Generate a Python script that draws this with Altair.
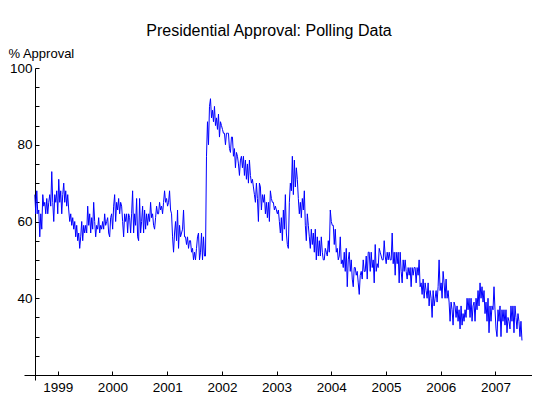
import altair as alt
import pandas as pd

# Weekly approval readings (% approving)
approval_1998_2001 = [
    67, 62, 68, 62, 63, 56, 62, 58, 67, 64, 65, 62, 66, 62, 65, 67, 64, 73, 65, 60,
    67, 65, 68, 62, 71, 65, 68, 62, 67, 70, 65, 68, 64, 67, 63, 60, 62, 59, 61, 58,
    60, 56, 59, 55, 57, 53, 56, 60, 55, 59, 57, 59, 57, 64, 59, 62, 57, 61, 58, 65,
    60, 56, 59, 58, 61, 57, 59, 58, 60, 58, 62, 59, 60, 61, 57, 56, 61, 62, 58, 64,
    67, 60, 65, 63, 66, 62, 65, 64, 60, 56, 62, 60, 62, 57, 62, 61, 57, 62, 68, 57,
    62, 59, 66, 56, 55, 66, 57, 60, 64, 57, 63, 58, 62, 59, 62, 60, 65, 61, 62, 59,
    58, 61, 64, 62, 62, 65, 63, 64, 62, 65, 68, 65, 66, 64, 65, 68, 63, 62, 56, 52,
    57, 60, 55, 63, 53, 59, 56, 57, 58, 63, 56, 56, 54, 56, 53, 55, 55, 52, 53, 50,
    52, 50, 53, 56, 57, 50, 52, 57, 50, 56, 51, 51,
]
approval_2001_2004 = [
    77, 86, 80, 90, 92, 87, 89, 86, 90, 85, 87, 84, 88, 82, 86, 85, 84, 83, 83, 80,
    83, 83, 83, 79, 78, 82, 82, 77, 79, 74, 78, 77, 75, 72, 76, 77, 74, 77, 72, 76,
    71, 75, 70, 76, 72, 70, 71, 69, 67, 65, 70, 66, 60, 70, 69, 63, 67, 65, 67, 62,
    65, 61, 65, 60, 68, 66, 65, 65, 63, 64, 63, 62, 63, 60, 57, 61, 55, 63, 58, 67,
    57, 54, 53, 65, 70, 68, 77, 67, 76, 69, 74, 71, 66, 62, 65, 61, 66, 63, 68, 59,
    55, 62, 59, 56, 53, 58, 54, 57, 52, 58, 50, 56, 51, 55, 51, 56, 52, 50, 50, 53,
    52, 51, 55, 52, 63, 60, 59, 59, 54, 58, 52, 53, 50, 51, 56, 49, 50, 48, 52, 47,
    53, 43, 50, 52, 47, 50, 45, 43, 48, 48, 46, 47, 44, 41, 46, 47, 45, 50, 47,
]
approval_2004_2007 = [
    47, 51, 45, 52, 52, 47, 52, 48, 50, 44, 54, 47, 49, 48, 53, 52, 51, 50, 50, 55,
    51, 49, 52, 50, 52, 50, 50, 57, 49, 52, 46, 52, 49, 52, 44, 52, 47, 44, 50, 47,
    50, 47, 45, 48, 46, 48, 43, 48, 46, 48, 48, 44, 48, 46, 50, 43, 44, 41, 45, 40,
    44, 42, 40, 44, 38, 42, 40, 35, 42, 38, 40, 42, 39, 43, 50, 42, 44, 40, 47, 44,
    40, 45, 40, 42, 39, 34, 39, 37, 33, 39, 38, 35, 38, 34, 37, 32, 38, 33, 36, 34,
    37, 35, 40, 37, 40, 35, 40, 34, 38, 39, 34, 40, 37, 42, 38, 44, 40, 43, 39, 42,
    36, 39, 34, 40, 31, 38, 34, 38, 37, 43, 37, 32, 30, 37, 34, 38, 30, 37, 34, 37,
    33, 37, 31, 35, 34, 32, 38, 34, 38, 31, 38, 35, 32, 36, 34, 30, 34, 29,
]
first_poll = "1998-08-01"
last_poll = "2007-06-27"

year_ticks = [1999, 2000, 2001, 2002, 2003, 2004, 2005, 2006, 2007]
y_labels = [40, 60, 80, 100]
y_ticks = [25, 30, 35, 40, 45, 50, 55, 60, 65, 70, 75, 80, 85, 90, 95, 100]

values = approval_1998_2001 + approval_2001_2004 + approval_2004_2007
dates = pd.date_range(first_poll, last_poll, periods=len(values))
df = pd.DataFrame({"date": dates, "approval": values})

FONT = "Liberation Sans"
W, H = 508, 307

x_scale = alt.Scale(domain=[alt.DateTime(year=1998, month=5, date=21),
                            alt.DateTime(year=2007, month=9, date=2)], nice=False)
y_scale = alt.Scale(domain=[20, 100], nice=False, zero=False)

year_dt = [alt.DateTime(year=y, month=1, date=1) for y in year_ticks]
origin_dt = alt.DateTime(year=1998, month=8, date=1)

main = alt.Chart(df).mark_line(color="#0000ff", strokeWidth=1).encode(
    x=alt.X("date:T", scale=x_scale, title=None,
            axis=alt.Axis(orient="bottom", values=[origin_dt] + year_dt,
                          labelExpr="year(datum.value) < 1999 ? '' : timeFormat(datum.value, '%Y')",
                          ticks=True, tickSize=5,
                          tickColor={"condition": {"test": "year(datum.value) < 1999", "value": "black"},
                                     "value": "transparent"},
                          domain=True, domainColor="black", grid=False,
                          labelFont=FONT, labelFontSize=13.5, labelColor="black",
                          labelPadding=0, labelFlush=False)),
    y=alt.Y("approval:Q", scale=y_scale,
            axis=alt.Axis(orient="left", offset=-11, values=y_labels, ticks=False,
                          domain=True, domainColor="black", grid=False,
                          labelFont=FONT, labelFontSize=13.5, labelColor="black",
                          labelPadding=3,
                          title="% Approval", titleFont=FONT, titleFontSize=13,
                          titleFontWeight="normal", titleColor="black", titleAngle=0,
                          titleAlign="left", titleBaseline="middle",
                          titleX=-27, titleY=-15)),
)

ticks_layer = alt.Chart(df).mark_line(strokeOpacity=0).encode(
    x=alt.X("date:T", scale=x_scale, title=None,
            axis=alt.Axis(orient="top", offset=-H, values=year_dt, labels=False,
                          domain=False, ticks=True, tickSize=4,
                          tickColor="black", grid=False)),
    y=alt.Y("approval:Q", scale=y_scale, title=None,
            axis=alt.Axis(orient="right", offset=-(W - 11), values=y_ticks, labels=False,
                          domain=False, ticks=True, tickSize=4,
                          tickColor="black", grid=False)),
)

chart = alt.layer(main, ticks_layer).resolve_axis(
    x="independent", y="independent"
).properties(
    width=W, height=H,
    background="white",
    autosize=alt.AutoSizeParams(type="none"),
    padding={"left": 16, "top": 60, "right": 0, "bottom": 20},
    title=alt.Title("Presidential Approval: Polling Data", font=FONT, fontSize=16,
                    fontWeight="normal", color="black", anchor="middle",
                    frame="group", baseline="alphabetic", offset=-5, dx=-9),
).configure_view(
    stroke=None, strokeWidth=0
).configure_axis(
    grid=False
)

chart.save("out.html", embed_options={"renderer": "svg", "actions": False})
